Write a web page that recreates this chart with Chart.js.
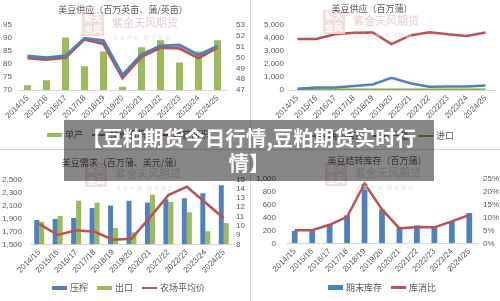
<!DOCTYPE html>
<html><head><meta charset="utf-8">
<script src="https://cdn.jsdelivr.net/npm/chart.js@4.4.0/dist/chart.umd.min.js"></script>
<style>
html,body{margin:0;padding:0;background:#fff;}
#wrap{position:relative;width:500px;height:301px;overflow:hidden;font-family:"Noto Sans CJK SC",sans-serif;}
.panel{position:absolute;width:250px;}
.panel canvas{position:absolute;left:0;top:0;}
.title{position:absolute;font-size:9px;line-height:10px;color:#595959;white-space:nowrap;transform:translate(-50%,-50%);}
.seal{position:absolute;width:22px;height:24px;background:#f2d9d9;color:#fff;font-size:9px;line-height:12px;text-align:center;font-weight:bold;opacity:0.9;}
.wmt{position:absolute;font-size:11px;line-height:12px;color:#e4cfcf;white-space:nowrap;}
.wms{position:absolute;font-size:5px;line-height:6px;color:#e2e2e2;white-space:nowrap;letter-spacing:2px;}
.legend{position:absolute;font-size:9px;line-height:10px;color:#595959;white-space:nowrap;display:flex;align-items:center;transform:translateY(-50%);}
.sw{display:inline-block;width:15px;margin-right:3px;}
.lt{margin-right:9px;}
.vline{position:absolute;left:250px;top:0;width:1px;height:301px;background:#d9d9d9;}
.hline{position:absolute;left:0;top:149px;width:500px;height:1px;background:#d9d9d9;}
#banner{position:absolute;left:64px;top:120px;width:370px;height:61px;background:rgba(0,0,0,0.47);color:#fff;font-weight:bold;font-size:20.5px;line-height:25px;text-align:center;padding-top:5px;box-sizing:border-box;font-family:"Noto Sans CJK SC",sans-serif;}
</style>
</head><body>
<div id="wrap">
  <div class="panel" id="p1" style="left:0;top:0;height:150px;"><canvas id="c1" width="250" height="150"></canvas></div>
  <div class="panel" id="p2" style="left:250px;top:0;height:150px;"><canvas id="c2" width="250" height="150"></canvas></div>
  <div class="panel" id="p3" style="left:0;top:150px;height:151px;"><canvas id="c3" width="250" height="151"></canvas></div>
  <div class="panel" id="p4" style="left:250px;top:150px;height:151px;"><canvas id="c4" width="250" height="151"></canvas></div>
  <div class="vline"></div>
  <div class="hline"></div>
  <div id="banner">【豆粕期货今日行情,豆粕期货实时行<br>情】</div>
</div>
<script>
// ---- data ----
const years = ['2014/15','2015/16','2016/17','2017/18','2018/19','2019/20','2020/21','2021/22','2022/23','2023/24','2024/25'];
// chart 1: 美豆供应（百万英亩、蒲/英亩）
const yieldBu = [47.45, 47.9, 51.85, 49.2, 50.55, 47.3, 50.95, 51.6, 49.55, 50.55, 51.6];
const plantedArea = [83.1, 82.4, 83.2, 89.9, 89.0, 75.8, 83.7, 87.0, 87.3, 83.5, 86.9];
const harvestedArea = [82.3, 81.7, 82.4, 89.5, 87.7, 74.7, 82.8, 86.3, 86.0, 82.2, 86.3];
// chart 2: 美豆供应（百万蒲）
const beginStocks = [95, 190, 200, 300, 430, 930, 520, 250, 270, 260, 340];
const production = [3920, 3920, 4290, 4400, 4420, 3530, 4200, 4450, 4280, 4160, 4430];
const imports = [33, 24, 22, 22, 14, 15, 20, 16, 25, 21, 25];
// chart 3: 美豆需求（百万蒲、美元/蒲）
const crush = [1874, 1889, 1905, 2058, 2098, 2169, 2144, 2195, 2210, 2287, 2410];
const exportsBu = [1848, 1935, 2171, 2140, 1751, 1685, 2263, 2150, 1992, 1700, 1828];
const farmPrice = [10.2, 9.0, 9.5, 9.35, 8.5, 8.6, 10.9, 13.3, 14.2, 12.5, 10.8];
// chart 4: 美豆结转库存（百万蒲）
const endStocks = [191, 197, 300, 438, 925, 525, 257, 275, 264, 345, 470];
const stockRatio = [5.1, 5.1, 7.2, 10.3, 23.2, 13.2, 5.8, 6.3, 6.2, 8.5, 11.0];

const BLUE = '#4f81bd', RED = '#c0504d', GREEN = '#9bbb59', GREEN2 = '#7fac42';
const TICK = {color:'#595959', font:{size:8, lineHeight:1, family:'"Liberation Sans", Arial, sans-serif'}};

function yAxis(pos, min, max, step, width, pad, fmt) {
  const ticks = Object.assign({stepSize: step, padding: pad, autoSkip:false}, TICK);
  if (fmt) ticks.callback = fmt;
  return {position: pos, min, max, ticks,
    grid:{display:false, drawTicks:false}, border:{display:false},
    afterFit(s){ s.width = width; }};
}
function xAxis(h, pad) {
  return {type:'category', offset:true,
    ticks: Object.assign({minRotation:45, maxRotation:45, padding:pad, autoSkip:false}, TICK),
    grid:{display:false, drawTicks:false}, border:{display:true, color:'#d9d9d9'},
    afterFit(s){ s.height = h; }};
}
function base(padding, scales) {
  return {responsive:false, animation:false, devicePixelRatio:1,
    layout:{padding}, scales,
    plugins:{legend:{display:false}, tooltip:{enabled:false}}};
}
function lineDs(label, data, color, axis, w) {
  return {type:'line', label, data, borderColor:color, backgroundColor:color, borderWidth:w||2.5,
    pointRadius:0, tension:0, yAxisID:axis, order:0};
}

new Chart(document.getElementById('c1'), {
  type:'bar',
  data:{labels: years, datasets:[
    {type:'bar', label:'单产', data: yieldBu, backgroundColor: GREEN, yAxisID:'y1', order:1, barPercentage:1, categoryPercentage:0.37},
    lineDs('播种面积', plantedArea, BLUE, 'y', 2.8),
    lineDs('收获面积', harvestedArea, RED, 'y', 2.8)
  ]},
  options: base({left:0, right:0, top:25, bottom:20}, {
    x: xAxis(40, 4),
    y: yAxis('left', 70, 95, 5, 18, 6),
    y1: yAxis('right', 47, 53, 1, 23, 9)
  })
});

new Chart(document.getElementById('c2'), {
  type:'line',
  data:{labels: years, datasets:[
    lineDs('期初库存', beginStocks, BLUE, 'y', 2.5),
    lineDs('产量', production, RED, 'y', 2.5),
    lineDs('进口', imports, GREEN2, 'y', 2.5)
  ]},
  options: base({left:0, right:5, top:25, bottom:20}, {
    x: xAxis(40, 4),
    y: yAxis('left', 0, 5000, 1000, 38, 4)
  })
});

new Chart(document.getElementById('c3'), {
  type:'bar',
  data:{labels: years, datasets:[
    {type:'bar', label:'压榨', data: crush, backgroundColor: BLUE, yAxisID:'y', order:1, barPercentage:1, categoryPercentage:0.54},
    {type:'bar', label:'出口', data: exportsBu, backgroundColor: GREEN, yAxisID:'y', order:1, barPercentage:1, categoryPercentage:0.54},
    lineDs('农场平均价', farmPrice, RED, 'y1', 2.5)
  ]},
  options: base({left:0, right:0, top:29.3, bottom:21.7}, {
    x: xAxis(35, 4),
    y: yAxis('left', 1500, 2500, 200, 30, 8),
    y1: yAxis('right', 8, 15, 1, 17, 3)
  })
});

new Chart(document.getElementById('c4'), {
  type:'bar',
  data:{labels: years, datasets:[
    {type:'bar', label:'期末库存', data: endStocks, backgroundColor: BLUE, yAxisID:'y', order:1, barPercentage:1, categoryPercentage:0.33},
    lineDs('库消比', stockRatio, RED, 'y1', 2.5)
  ]},
  options: base({left:0, right:0, top:29, bottom:22.7}, {
    x: xAxis(35, 4),
    y: yAxis('left', 0, 1000, 200, 36, 10),
    y1: yAxis('right', 0, 25, 5, 22, 5, v => v + '%')
  })
});

// titles, watermarks, legends (HTML overlays)
function addText(panel, cls, txt, x, y) {
  const d = document.createElement('div'); d.className = cls; d.textContent = txt;
  d.style.left = x + 'px'; d.style.top = y + 'px';
  document.getElementById(panel).appendChild(d); return d;
}
function addWatermark(panel, sx, sy) {
  const s = document.createElement('div'); s.className = 'seal';
  s.innerHTML = '紫天<br>金风'; s.style.left = sx + 'px'; s.style.top = sy + 'px';
  document.getElementById(panel).appendChild(s);
  addText(panel, 'wmt', '紫金天风期货', sx + 30, sy + 4);
  addText(panel, 'wms', '金龙产业 研究驱动', sx + 31, sy + 22);
}
function addLegend(panel, x, y, items) {
  const lg = document.createElement('div'); lg.className = 'legend';
  lg.style.left = x + 'px'; lg.style.top = y + 'px';
  items.forEach(([label, color, kind]) => {
    const sw = document.createElement('span'); sw.className = 'sw';
    sw.style.background = color; sw.style.height = (kind === 'bar' ? 4.5 : 2.5) + 'px';
    const t = document.createElement('span'); t.className = 'lt'; t.textContent = label;
    lg.appendChild(sw); lg.appendChild(t);
  });
  document.getElementById(panel).appendChild(lg);
}

addWatermark('p1', 82, 12);
addWatermark('p2', 73, 10);
addWatermark('p3', 85, 13);
addWatermark('p4', 75, 12);

addText('p1', 'title', '美豆供应（百万英亩、蒲/英亩）', 123, 9.5);
addText('p2', 'title', '美豆供应（百万蒲）', 122, 8.5);
addText('p3', 'title', '美豆需求（百万蒲、美元/蒲）', 122, 13);
addText('p4', 'title', '美豆结转库存（百万蒲）', 127, 11);

addLegend('p1', 47, 135, [['单产', GREEN, 'bar'], ['播种面积', BLUE, 'line'], ['收获面积', RED, 'line']]);
addLegend('p2', 60, 136, [['期初库存', BLUE, 'line'], ['产量', RED, 'line'], ['进口', GREEN2, 'line']]);
addLegend('p3', 52, 138, [['压榨', BLUE, 'bar'], ['出口', GREEN, 'bar'], ['农场平均价', RED, 'line']]);
addLegend('p4', 78, 137.5, [['期末库存', BLUE, 'bar'], ['库消比', RED, 'line']]);
</script>
</body></html>
